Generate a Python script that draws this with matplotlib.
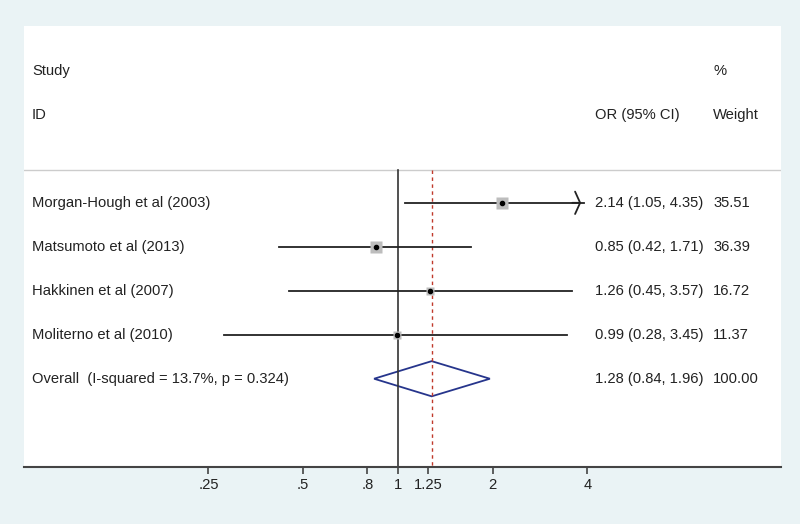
import matplotlib
matplotlib.use('Agg')
import matplotlib.pyplot as plt
import matplotlib.transforms as mtransforms

plt.rcParams['font.family'] = ['Liberation Sans', 'DejaVu Sans']

studies = ['Morgan-Hough et al (2003)', 'Matsumoto et al (2013)',
           'Hakkinen et al (2007)', 'Moliterno et al (2010)']
or_est = [2.14, 0.85, 1.26, 0.99]
ci_low = [1.05, 0.42, 0.45, 0.28]
ci_high = [4.35, 1.71, 3.57, 3.45]
weights = [35.51, 36.39, 16.72, 11.37]

overall_label = 'Overall  (I-squared = 13.7%, p = 0.324)'
overall_est = 1.28
overall_low = 0.84
overall_high = 1.96

xticks = [0.25, 0.5, 0.8, 1, 1.25, 2, 4]
xticklabels = ['.25', '.5', '.8', '1', '1.25', '2', '4']

bg = '#eaf3f5'
fig = plt.figure(figsize=(8, 5.24), dpi=100, facecolor=bg)
W, H = 800, 524
# white plot region in pixels: x 24..781, y 26..466.7 (from top)
ax = fig.add_axes([24 / W, (H - 466.7) / H, (781 - 24) / W, (466.7 - 26) / H])
ax.set_facecolor('white')
ax.set_xscale('log', base=2)
ax.set_xlim(0.0648, 16.5)
ax.set_ylim(6.0, -4.02)
for s in ['top', 'left', 'right']:
    ax.spines[s].set_visible(False)
ax.spines['bottom'].set_color('#444444')
ax.spines['bottom'].set_linewidth(1.5)
ax.set_yticks([])
ax.set_xticks(xticks)
ax.set_xticklabels(xticklabels)
ax.minorticks_off()
ax.tick_params(axis='x', length=5, width=1.2, color='#444444', labelsize=10.6,
               pad=3, labelcolor='#222222')

x_clip = 3.9  # right edge where CI arrows are cut
sep = -0.75

# header separator
ax.axhline(sep, color='#cccccc', lw=1)
# reference lines
ax.plot([1, 1], [sep, 6.0], color='#333333', lw=1.2)
ax.plot([overall_est, overall_est], [sep, 6.0], color='#c0392b', lw=1, ls=(0, (2.5, 2.5)))

for i, (lo, hi, est, w) in enumerate(zip(ci_low, ci_high, or_est, weights)):
    if hi > x_clip:
        ax.plot([lo, x_clip], [i, i], color='#222222', lw=1.3)
        ax.annotate('', xy=(x_clip, i), xytext=(x_clip * 0.9, i),
                    arrowprops=dict(arrowstyle='->,head_length=0.14,head_width=0.31',
                                    color='#222222', lw=1.3, mutation_scale=26))
    else:
        ax.plot([lo, hi], [i, i], color='#222222', lw=1.3)
    ax.plot(est, i, marker='s', ms=1.5 * w ** 0.5, color='#bdbdbd', mec='none', zorder=3)
    ax.plot(est, i, marker='o', ms=3, color='black', zorder=4)

# overall diamond
k = len(studies)
ax.fill([overall_low, overall_est, overall_high, overall_est, overall_low],
        [k, k - 0.4, k, k + 0.4, k], facecolor='none', edgecolor='#26358c', lw=1.3)

tr = mtransforms.blended_transform_factory(fig.transFigure, ax.transData)
fs = 10.6
tc = '#222222'
x_lab, x_or, x_w = 32 / W, 595 / W, 713 / W
ax.text(x_lab, -3, 'Study', transform=tr, fontsize=fs, va='center', color=tc)
ax.text(x_lab, -2, 'ID', transform=tr, fontsize=fs, va='center', color=tc)
ax.text(x_w, -3, '%', transform=tr, fontsize=fs, va='center', color=tc)
ax.text(x_or, -2, 'OR (95% CI)', transform=tr, fontsize=fs, va='center', color=tc)
ax.text(x_w, -2, 'Weight', transform=tr, fontsize=fs, va='center', color=tc)

rows = studies + [overall_label]
ests = or_est + [overall_est]
los = ci_low + [overall_low]
his = ci_high + [overall_high]
ws = weights + [100.0]
for i, (name, e, lo, hi, w) in enumerate(zip(rows, ests, los, his, ws)):
    ax.text(x_lab, i, name, transform=tr, fontsize=fs, va='center', color=tc)
    ax.text(x_or, i, '%.2f (%.2f, %.2f)' % (e, lo, hi), transform=tr,
            fontsize=fs, va='center', color=tc)
    ax.text(x_w, i, '%.2f' % w, transform=tr, fontsize=fs, va='center', color=tc)

fig.savefig('out.png', dpi=100, facecolor=bg)
